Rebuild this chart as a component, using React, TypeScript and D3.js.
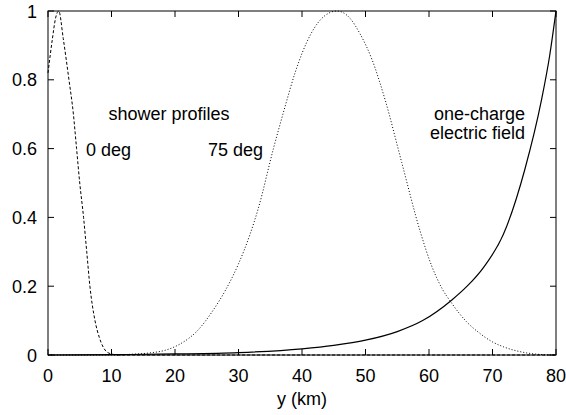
import * as d3 from "d3";

// shower profile, 0 deg (dashed)
const x0deg = [0, 0.7, 1.2, 1.7, 2.4, 3.3, 4.0, 4.5, 5.0, 5.6, 6.1, 6.6, 7.4, 8.1, 9.2, 10, 11, 12, 20, 40, 60, 80];
const y0deg = [0.82, 0.92, 0.98, 1.0, 0.92, 0.8, 0.7, 0.6, 0.5, 0.4, 0.3, 0.2, 0.1, 0.05, 0.01, 0.003, 0, 0, 0, 0, 0, 0];

// shower profile, 75 deg (dotted)
const x75deg = [0, 10, 13, 16, 18.5, 20.8, 23.5, 26, 28, 30, 31.8, 33.1, 35.5, 37.3, 38.9, 41.3, 43.5, 45.5, 47.5, 49.1, 51, 53.1, 55.7, 58.6, 60.4, 62, 63.6, 66, 68, 70, 71.7, 75.4, 78, 80];
const y75deg = [0, 0, 0.002, 0.006, 0.014, 0.032, 0.07, 0.13, 0.19, 0.265, 0.35, 0.425, 0.6, 0.72, 0.82, 0.93, 0.985, 1.0, 0.98, 0.935, 0.86, 0.741, 0.56, 0.36, 0.26, 0.195, 0.15, 0.095, 0.063, 0.038, 0.024, 0.006, 0.001, 0];

// one-charge electric field (solid)
const xField = [0, 10, 20, 30, 40, 45, 50, 55, 59, 63.6, 66, 68.6, 71.7, 75.1, 77.7, 79, 80];
const yField = [0, 0.001, 0.003, 0.007, 0.018, 0.028, 0.043, 0.068, 0.1, 0.16, 0.2, 0.255, 0.35, 0.54, 0.74, 0.87, 1.0];

const xTicks = [0, 10, 20, 30, 40, 50, 60, 70, 80];
const yTicks = [0, 0.2, 0.4, 0.6, 0.8, 1];

const width = 566, height = 415;
const margin = { top: 11, right: 10, bottom: 60, left: 48 };
const font = "'Liberation Sans', Arial, Helvetica, sans-serif";

const App = () => {
  const xScale = d3.scaleLinear().domain([0, 80]).range([margin.left, width - margin.right]);
  const yScale = d3.scaleLinear().domain([0, 1]).range([height - margin.bottom, margin.top]);

  const line = d3.line<[number, number]>()
    .x(d => xScale(d[0]))
    .y(d => yScale(d[1]))
    .curve(d3.curveMonotoneX);

  const zip = (xs: number[], ys: number[]) => xs.map((x, i) => [x, ys[i]] as [number, number]);

  const x0 = xScale(0), x1 = xScale(80), yb = yScale(0), yt = yScale(1);
  const tick = 6;

  return (
    <>
      <style>{`body{margin:0}`}</style>
      <svg width={width} height={height} style={{ display: "block", background: "#fff" }} fontFamily={font}>
        <path d={line(zip(x0deg, y0deg)) || ""} fill="none" stroke="#000" strokeWidth={1} strokeDasharray="3,2" />
        <path d={line(zip(x75deg, y75deg)) || ""} fill="none" stroke="#000" strokeWidth={1} strokeDasharray="1,2" />
        <path d={line(zip(xField, yField)) || ""} fill="none" stroke="#000" strokeWidth={1.2} />

        {/* frame */}
        <rect x={x0} y={yt} width={x1 - x0} height={yb - yt} fill="none" stroke="#000" strokeWidth={1} />

        {xTicks.map(t => (
          <g key={"x" + t}>
            <line x1={xScale(t)} x2={xScale(t)} y1={yb} y2={yb - tick} stroke="#000" />
            <line x1={xScale(t)} x2={xScale(t)} y1={yt} y2={yt + tick} stroke="#000" />
            <text x={xScale(t)} y={382} fontSize={18} textAnchor="middle">{t}</text>
          </g>
        ))}
        {yTicks.map(t => (
          <g key={"y" + t}>
            <line x1={x0} x2={x0 + tick} y1={yScale(t)} y2={yScale(t)} stroke="#000" />
            <line x1={x1} x2={x1 - tick} y1={yScale(t)} y2={yScale(t)} stroke="#000" />
            <text x={37} y={yScale(t) + 6.5} fontSize={18} textAnchor="end">{t}</text>
          </g>
        ))}

        <text x={302} y={405} fontSize={18} textAnchor="middle">y (km)</text>

        <text x={169} y={120} fontSize={18} textAnchor="middle">shower profiles</text>
        <text x={86} y={156} fontSize={18}>0 deg</text>
        <text x={208} y={156} fontSize={18}>75 deg</text>
        <text x={525} y={120} fontSize={18} textAnchor="end">one-charge</text>
        <text x={525} y={139} fontSize={18} textAnchor="end">electric field</text>
      </svg>
    </>
  );
};

export default App;
